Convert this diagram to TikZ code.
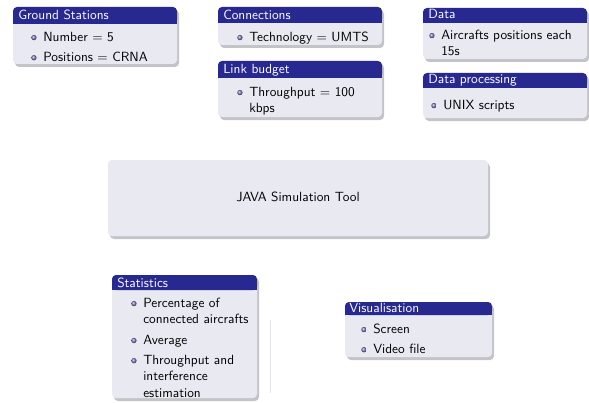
\documentclass[tikz,border=0pt]{standalone}
\usepackage{tikz}
\usepackage{enumitem}

\definecolor{titleblue}{RGB}{40,40,145}
\definecolor{bodygrey}{RGB}{233,233,242}
\definecolor{ballblue}{RGB}{125,125,195}
\definecolor{shadowgrey}{RGB}{196,196,200}

\setlist[itemize]{label={\tikz[baseline=-2.6pt]\shade[ball color=ballblue] (0,0) circle (2pt);},
  leftmargin=22.5pt, labelsep=5pt, topsep=0pt, partopsep=0pt, parsep=0pt, itemsep=2.5pt}

% frame of a block: left, top, right, bottom of title, bottom
\newcommand{\blockframe}[5]{%
  \fill[shadowgrey, rounded corners=3pt] (#1+2,#2+3) rectangle (#3+2,#5+3);
  \fill[bodygrey, rounded corners=3pt] (#1,#2) rectangle (#3,#5);
  \fill[titleblue, rounded corners=3pt] (#1,#2) rectangle (#3,#4);
  \fill[titleblue] (#1,#4-4) rectangle (#3,#4);
}

\begin{document}
\begin{tikzpicture}[x=0.75pt, y=-0.75pt, font=\sffamily\fontsize{10}{12.6}\selectfont,
  blocktitle/.style={anchor=base west, inner sep=0pt, text=white},
  blockbody/.style={anchor=north west, inner sep=0pt, text width=200pt, align=left}]
  \useasboundingbox (0,0) rectangle (589,403);

  % Ground stations
  \blockframe{13}{7}{177}{24}{64}
  \node[blocktitle] (gsT) at (18,20) {Ground Stations};
  \node[blockbody] (gsB) at (13,24) {\begin{itemize}
      \item Number = 5
      \item Positions = CRNA
    \end{itemize}};

  % Connections
  \blockframe{218}{7}{382}{23}{45}
  \node[blocktitle] (conT) at (223,20) {Connections};
  \node[blockbody] (conB) at (219,24) {\begin{itemize}
      \item Technology = UMTS
    \end{itemize}};

  % Link budget
  \blockframe{218}{61}{382}{78}{117}
  \node[blocktitle] (lbT) at (223,74) {Link budget};
  \node[blockbody] (lbB) at (219,79) {\begin{itemize}
      \item Throughput = 100\\ kbps
    \end{itemize}};

  % Data
  \blockframe{423}{8}{587}{23}{59}
  \node[blocktitle] (datT) at (428,19) {Data};
  \node[blockbody] (datB) at (411,22) {\begin{itemize}
      \item Aircrafts positions each\\ 15s
    \end{itemize}};

  % Data processing
  \blockframe{423}{73}{587}{88}{118}
  \node[blocktitle] (dpT) at (428,84) {Data processing};
  \node[blockbody] (dpB) at (413,92) {\begin{itemize}
      \item UNIX scripts
    \end{itemize}};

  % Simulation tool
  \fill[shadowgrey, rounded corners=3pt] (110,163) rectangle (490,239);
  \fill[bodygrey, rounded corners=3pt] (108,160) rectangle (488,236);
  \node (java) at (298,197) {JAVA Simulation Tool};

  % Statistics
  \blockframe{112}{275}{257}{290}{398}
  \node[blocktitle] (statT) at (117,287) {Statistics};
  \node[blockbody] (statB) at (113,290) {\begin{itemize}
      \item Percentage of\\ connected aircrafts
      \item Average
      \item Throughput and\\ interference\\ estimation
    \end{itemize}};
  \draw[black!10] (270,320) -- (270,393);

  % Visualisation
  \blockframe{345}{302}{492}{315}{357}
  \node[blocktitle] (visT) at (349,312) {Visualisation};
  \node[blockbody] (visB) at (343,316) {\begin{itemize}
      \item Screen
      \item Video file
    \end{itemize}};
\end{tikzpicture}
\end{document}
